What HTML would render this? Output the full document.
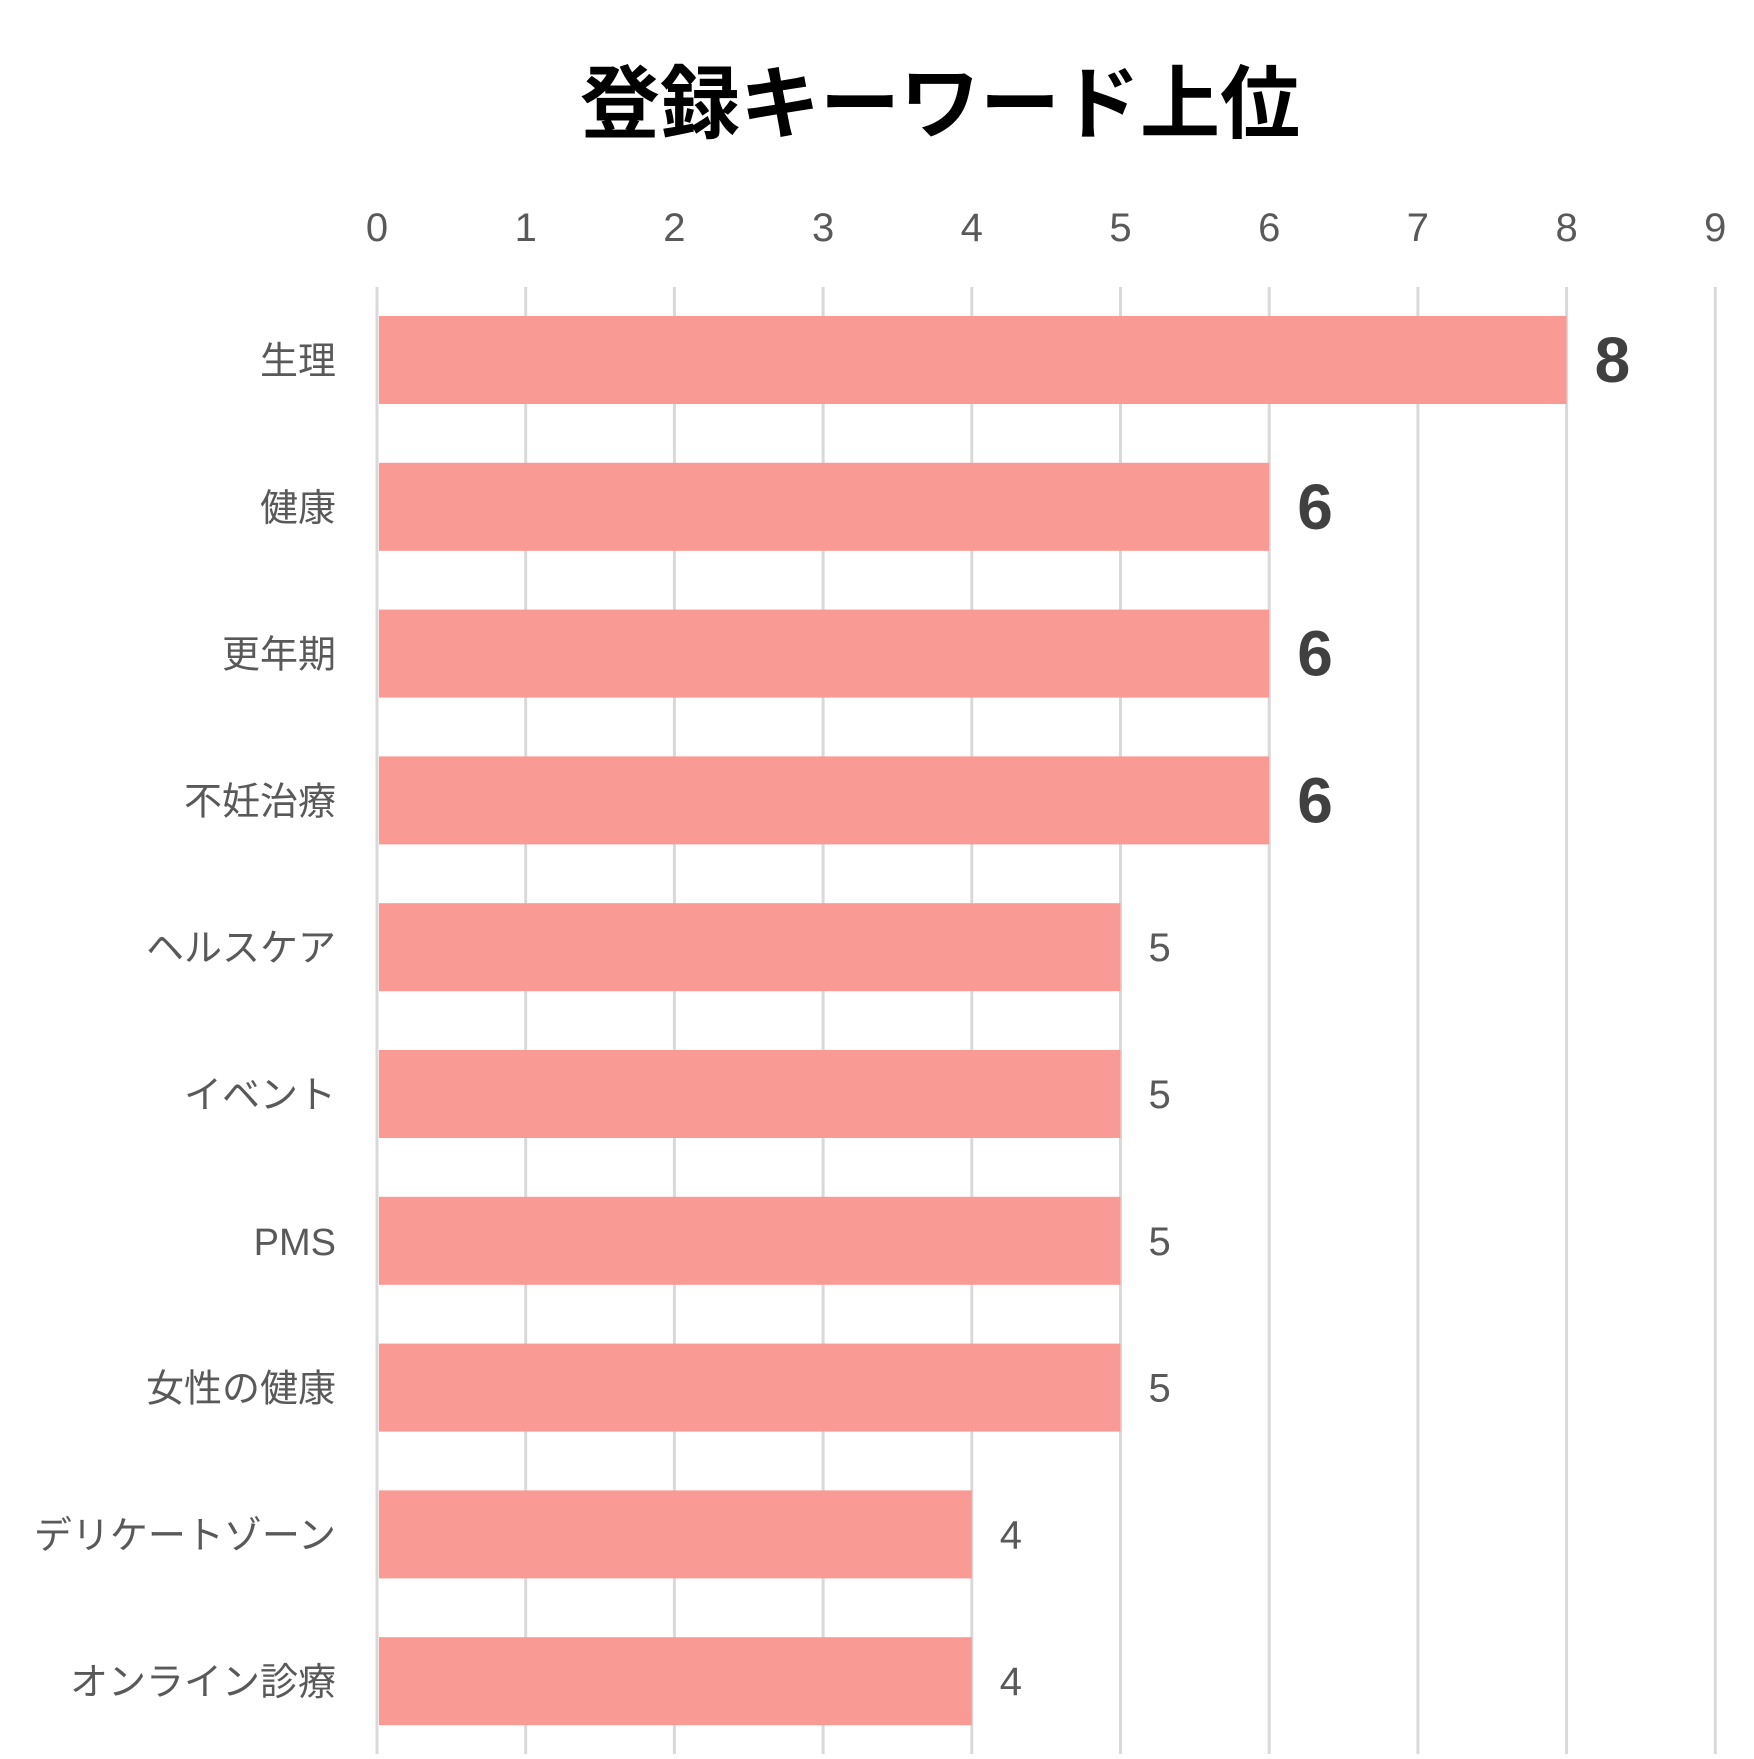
<!DOCTYPE html>
<html><head><meta charset="utf-8"><style>
body{margin:0;background:#fff}
svg text{font-family:"Liberation Sans","Noto Sans CJK JP",sans-serif}
</style></head><body>
<svg id="chart" width="1754" height="1754" xmlns="http://www.w3.org/2000/svg">
<text x="940" y="132" text-anchor="middle" font-size="80" font-weight="bold" fill="#000">登録キーワード上位</text>
<g id="grid"></g><g id="bars"></g><g id="labels"></g>
</svg>
<script>
const categories=["生理","健康","更年期","不妊治療","ヘルスケア","イベント","PMS","女性の健康","デリケートゾーン","オンライン診療"];
const values=[8,6,6,6,5,5,5,5,4,4];
const ticks=[0,1,2,3,4,5,6,7,8,9];
const NS="http://www.w3.org/2000/svg";
const x0=377,unit=148.7,top0=316,step=146.8,bh=88;
const xs=v=>x0+v*unit;
const ys=i=>top0+i*step;
function mk(t,a,p,txt){const e=document.createElementNS(NS,t);for(const k in a)e.setAttribute(k,a[k]);if(txt!==undefined)e.textContent=txt;p.appendChild(e);return e;}
const g=document.getElementById('grid'),b=document.getElementById('bars'),l=document.getElementById('labels');
ticks.forEach(t=>{
 const ln=mk('line',{x1:xs(t),x2:xs(t),y1:287,y2:1754,stroke:'#d9d9d9','stroke-width':3},g);
 
 
 const tx=mk('text',{x:xs(t),y:241,'text-anchor':'middle','font-size':40,fill:'#595959','font-weight':300},l,String(t));
 
 
});
categories.forEach((c,i)=>{
 const r=mk('rect',{x:xs(0)+2,y:ys(i),width:xs(values[i])-xs(0)-2,height:bh,fill:'#F99A94'},b);
 
 
 const cl=mk('text',{x:336,y:ys(i)+bh/2+14,'text-anchor':'end','font-size':38,fill:'#595959'},l,c);
 
 
 const big=values[i]>=6;
 const vl=mk('text',{x:xs(values[i])+(big?28:28),y:ys(i)+bh/2+(big?22:14),'font-size':big?64:40,'font-weight':big?'bold':'normal',fill:big?'#404040':'#595959'},l,String(values[i]));
 
 
});
</script>
</body></html>
